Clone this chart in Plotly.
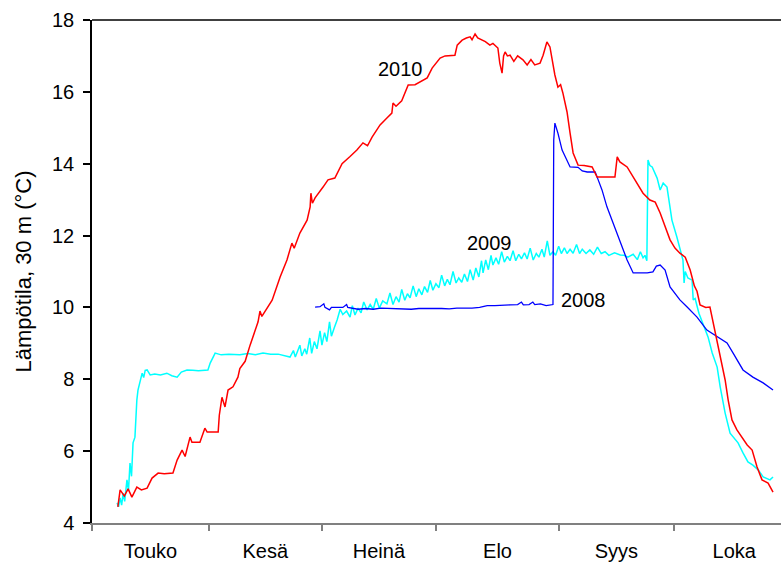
import plotly.graph_objects as go

# Month labels and month boundary positions (days from 1 May)
months = ["Touko", "Kesä", "Heinä", "Elo", "Syys", "Loka"]
month_bounds = [0, 30.8, 60.5, 90.5, 122.9, 153.2]
month_mids = [15.4, 45.6, 75.5, 106.7, 138.0, 169.0]
y_ticks = [4, 6, 8, 10, 12, 14, 16, 18]

# 2010 (red)
days_2010 = [6.8, 7.4, 8.5, 9.5, 10.5, 11.8, 13, 14.5, 15.8, 17.4, 19, 21.3, 22.4, 23.2, 23.7, 24.5,
             25.8, 26.3, 28.4, 29.7, 30.3, 33.2, 33.5, 34.2, 35, 35.8, 37.1, 38.4, 38.9, 40.3, 41.6,
             43.7, 44.2, 44.7, 47.4, 49.5, 51.3, 52.6, 53.2, 54.7, 56.6, 57.4, 57.6, 58, 58.7, 60.8,
             62.1, 63.9, 65.8, 67.9, 69.7, 71.3, 72.5, 73.7, 75.8, 77.6, 78.9, 79.2, 80, 81.5, 83.2,
             85, 86.5, 88.2, 89.5, 91.6, 92.9, 95.5, 96.1, 97.4, 98.5, 99.5, 100, 100.8, 101.5, 102.1,
             103.5, 104.7, 105.5, 106.8, 107.3, 107.9, 108.3, 108.7, 109.3, 110, 111, 112, 113.4,
             114.5, 115.5, 116.5, 117.9, 118.7, 119.7, 120.5, 121.8, 122.6, 123.3, 123.9, 124.5, 125,
             125.8, 126.6, 127.9, 129.5, 131.6, 132.9, 135, 137.6, 138.2, 138.9, 140.8, 142.9, 145,
             146.8, 148.2, 149.5, 150.8, 152.1, 153.4, 154.7, 156.1, 156.6, 157.4, 158.5, 159.2, 160,
             161.5, 162.6, 163.9, 164.7, 165.8, 166.6, 167.4, 168.4, 169.7, 171.1, 172.4, 173.7, 175,
             176.3, 177.9, 179.2]
temp_2010 = [4.45, 4.92, 4.75, 4.95, 4.72, 5.0, 4.92, 4.97, 5.25, 5.39, 5.37, 5.39, 5.75, 5.95, 6.03, 5.85,
             6.39, 6.25, 6.25, 6.64, 6.53, 6.53, 7.0, 7.5, 7.23, 7.7, 7.79, 8.06, 8.3, 8.5, 8.95,
             9.6, 9.9, 9.75, 10.2, 10.85, 11.32, 11.79, 11.65, 12.07, 12.43, 12.8, 13.18, 12.9, 13.05, 13.35,
             13.55, 13.6, 14.0, 14.2, 14.38, 14.58, 14.5, 14.74, 15.08, 15.27, 15.41, 15.69, 15.6, 15.75, 16.19,
             16.2, 16.3, 16.39, 16.66, 16.94, 17.0, 17.02, 17.3, 17.44, 17.5, 17.53, 17.45, 17.61, 17.5, 17.47,
             17.4, 17.3, 17.35, 17.22, 16.8, 16.52, 17.0, 17.11, 17.0, 17.02, 16.85, 17.0, 16.89,
             16.75, 16.9, 16.75, 16.8, 17.02, 17.39, 17.25, 16.47, 16.13, 16.2, 15.97, 15.72, 15.44,
             14.85, 14.3, 13.96, 13.95, 13.91, 13.63, 13.63, 13.63, 14.19, 14.05, 13.91, 13.55, 13.18,
             12.99, 12.93, 12.63, 12.24, 11.88, 11.65, 11.51, 11.4, 11.24, 11.04, 10.6, 10.45, 10.07,
             10.0, 10.01, 9.37, 8.9, 8.34, 7.98, 7.42, 6.87, 6.59, 6.39, 6.17, 6.03, 5.56,
             5.2, 5.11, 4.86]

# 2009 (cyan)
days_2009 = [6.6, 7.0, 7.4, 7.8, 8.2, 8.6, 9.2, 9.6, 10, 10.4, 10.8, 11.3, 11.8, 12.1, 13.2, 13.6, 14.0,
             14.5, 15.3, 16.5, 18, 19.7, 21, 22.4, 23.5, 25, 26.5, 28, 30.5, 31.1, 32.4, 34, 36, 38.9,
             41, 43, 45, 47, 49, 50.5, 52.1, 53, 53.5, 54.7, 55.2, 56, 56.5, 57.3, 57.8, 58.5, 59.2,
             60, 60.5, 61.2, 61.8, 62.5, 63, 63.8, 64.5, 65.3, 66, 67, 67.9, 68.5, 69.2, 70, 70.8,
             71.5, 72.4, 73.2, 74, 74.8, 75.6, 76.5, 77.6, 78.4, 79.2, 80, 80.8, 81.5, 82.3, 83,
             83.7, 84.5, 85.3, 86, 86.8, 87.5, 88.3, 89, 89.7, 90.5, 91.3, 92, 92.8, 93.5, 94.2,
             95, 95.8, 96.5, 97.3, 98, 98.8, 99.5, 100.3, 101, 101.8, 102.5, 102.9, 103.6, 104.3,
             105, 105.5, 106.3, 107, 107.8, 108.5, 109.3, 110, 110.8, 111.5, 112.3, 113, 113.8,
             114.5, 115.3, 116.1, 116.9, 117.6, 118.4, 119, 119.8, 120.5, 121.3, 122, 122.8, 123.5,
             124.3, 125, 125.8, 126.6, 127.5, 128.3, 129, 130, 131, 132, 133, 134, 135, 136, 137.5,
             139, 140, 141, 142.4, 143.5, 144.3, 145, 145.5, 146, 146.3, 146.8, 147.4, 148.7, 149.5,
             150.3, 151.3, 152.6, 153.9, 154.7, 155.5, 155.8, 156.1, 156.8, 157.9, 158.2, 158.7,
             159.7, 162.1, 163.2, 164.5, 165.3, 166.6, 167.9, 168.7, 170, 171.3, 172.6, 173.9, 175.3,
             176.6, 178.4, 179.2]
temp_2009 = [4.56, 4.45, 4.7, 4.5, 4.83, 4.6, 5.2, 4.9, 5.67, 5.3, 6.23, 6.39, 7.42, 7.7, 8.17, 8.05, 8.25,
             8.26, 8.12, 8.15, 8.12, 8.17, 8.1, 8.06, 8.2, 8.26, 8.25, 8.24, 8.26, 8.45, 8.73, 8.68, 8.7, 8.68,
             8.72, 8.68, 8.73, 8.7, 8.7, 8.66, 8.62, 8.8, 8.62, 8.95, 8.65, 8.85, 8.7, 9.15, 8.72, 9.05, 8.85,
             9.35, 8.95, 9.3, 9.05, 9.6, 9.2, 9.45, 9.65, 9.95, 9.8, 9.9, 9.73, 10.05, 9.79, 9.98, 9.85,
             10.15, 9.93, 10.08, 9.95, 10.25, 9.98, 10.18, 10.1, 10.4, 10.08, 10.3, 10.15, 10.5, 10.2, 10.38,
             10.27, 10.6, 10.3, 10.52, 10.35, 10.58, 10.42, 10.75, 10.48, 10.66, 10.55, 10.9, 10.6, 10.78, 10.63,
             11.0, 10.68, 10.82, 10.7, 10.93, 10.72, 11.05, 10.76, 11.1, 10.85, 11.3, 10.96, 11.32, 11.05,
             11.45, 11.18, 11.38, 11.2, 11.55, 11.26, 11.42, 11.3, 11.58, 11.3, 11.48, 11.35, 11.52,
             11.35, 11.65, 11.32, 11.5, 11.4, 11.62, 11.4, 11.85, 11.45, 11.55, 11.45, 11.7, 11.5,
             11.66, 11.5, 11.62, 11.51, 11.75, 11.5, 11.62, 11.5, 11.6, 11.48, 11.68, 11.5, 11.55, 11.45, 11.52,
             11.46, 11.45, 11.4, 11.48, 11.33, 11.55, 11.38, 11.45, 11.3, 14.1, 13.95, 13.91, 13.6, 13.27,
             13.46, 13.35, 12.43, 11.96, 11.6, 11.32, 10.68, 11.0, 10.82, 10.76, 10.21, 10.25,
             9.84, 9.18, 8.73, 8.34, 7.79, 7.06, 6.5, 6.39, 6.23, 5.95, 5.7, 5.61, 5.48,
             5.28, 5.2, 5.28]

# 2008 (blue)
days_2008 = [58.7, 60, 61, 61.3, 62.5, 63, 66, 67, 67.3, 68.5, 70, 72, 74, 76, 78, 80, 82, 84, 86, 88,
             90, 92, 94, 96, 98, 100, 102, 104, 106, 108, 110, 112, 113, 113.5, 115, 116, 116.5, 118,
             119.5, 121.3, 121.5, 121.8, 122.6, 123.7, 124.5, 125.8, 127.9, 129, 130.3, 132.4, 133.2,
             134.2, 135.5, 136.8, 138.2, 139.5, 140.8, 142.4, 144, 146.1, 147.6, 148.5, 149.5, 150.8,
             152.1, 153.4, 154.7, 156.6, 158, 159.2, 161.8, 164.5, 167.1, 168.7, 171.3, 173.9, 176.6,
             179.2]
temp_2008 = [10.01, 10.02, 10.1, 10.0, 9.93, 10.0, 10.0, 10.08, 10.0, 9.97, 9.95, 9.97, 9.95, 9.98, 9.97,
             9.96, 9.97, 9.95, 9.97, 9.96, 9.97, 9.97, 9.96, 9.98, 9.97, 9.98, 10.0, 10.05, 10.05, 10.07,
             10.07, 10.08, 10.15, 10.07, 10.08, 10.15, 10.08, 10.1, 10.05, 10.08, 14.66, 15.13, 14.85,
             14.38, 14.2, 13.91, 13.9, 13.8, 13.77, 13.77, 13.55, 13.27, 12.8, 12.43, 12.07, 11.68,
             11.32, 10.96, 10.96, 10.96, 10.99, 11.15, 11.18, 11.04, 10.57, 10.4, 10.21, 10.01, 9.85,
             9.73, 9.37, 9.18, 9.01, 8.73, 8.26, 8.06, 7.9, 7.7]

labels = ["2010", "2009", "2008"]
label_x = [81.1, 104.7, 129.2]
label_y = [16.64, 11.79, 10.2]

FONT = "Liberation Sans, Arial, sans-serif"

fig = go.Figure()
fig.add_trace(go.Scatter(x=days_2009, y=temp_2009, mode="lines",
                         line=dict(color="#00ffff", width=1.5), showlegend=False))
fig.add_trace(go.Scatter(x=days_2008, y=temp_2008, mode="lines",
                         line=dict(color="#0000ff", width=1.3), showlegend=False))
fig.add_trace(go.Scatter(x=days_2010, y=temp_2010, mode="lines",
                         line=dict(color="#ff0000", width=1.5), showlegend=False))

for t, xx, yy in zip(labels, label_x, label_y):
    fig.add_annotation(x=xx, y=yy, text=t, showarrow=False,
                       font=dict(family=FONT, size=20, color="black"))

xr = [0, 181.3]
fig.update_layout(
    width=781, height=562,
    margin=dict(l=92, r=0, t=20, b=39),
    paper_bgcolor="white", plot_bgcolor="white",
    font=dict(family=FONT, size=20, color="black"),
    xaxis=dict(range=xr, tickvals=month_mids, ticktext=months, ticks="",
               showline=True, linecolor="#808080", linewidth=1.5,
               showgrid=False, zeroline=False, ticklabelstandoff=9,
               tickfont=dict(family=FONT, size=20, color="black")),
    xaxis2=dict(range=xr, overlaying="x", anchor="y", side="bottom",
                tickvals=month_bounds, ticks="outside", ticklen=7, tickwidth=1.5,
                tickcolor="#808080", showticklabels=False, showline=False,
                showgrid=False, zeroline=False),
    yaxis=dict(range=[4, 18], tickvals=y_ticks, ticks="outside", ticklen=7,
               tickwidth=1.5, tickcolor="black", showline=True, linecolor="black",
               linewidth=1.5, showgrid=False, zeroline=False, ticklabelstandoff=5,
               tickfont=dict(family=FONT, size=20, color="black"),
               title=dict(text="Lämpötila, 30 m (°C)", standoff=14,
                          font=dict(family=FONT, size=22, color="black"))),
    shapes=[dict(type="line", xref="paper", yref="paper", x0=0, x1=1, y0=1, y1=1,
                 line=dict(color="black", width=1.5))],
)
fig.add_trace(go.Scatter(x=[None], y=[None], xaxis="x2", yaxis="y", showlegend=False,
                         hoverinfo="skip"))

fig.write_html("out.html")
